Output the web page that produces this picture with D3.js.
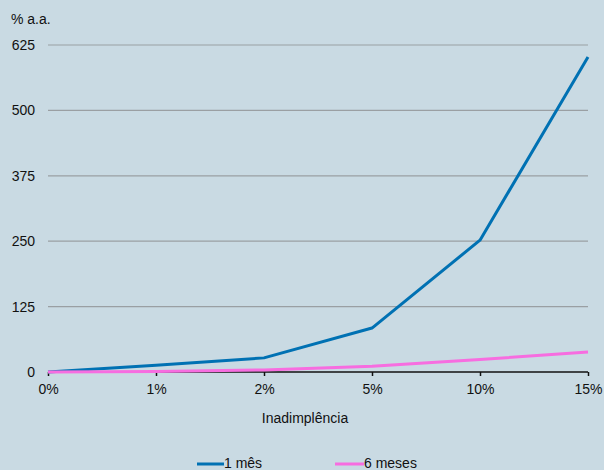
<!DOCTYPE html>
<html><head><meta charset="utf-8">
<script src="https://cdn.jsdelivr.net/npm/d3@7"></script>
<style>body{margin:0;background:#c9dae3;}svg{display:block;font-family:"Liberation Sans",Arial,sans-serif;}</style>
</head><body>
<svg id="c" width="604" height="470"></svg>
<script>
const categories = ["0%","1%","2%","5%","10%","15%"];
const mes1 = [0, 13, 27, 84, 252, 602];
const meses6 = [0, 1, 4, 11, 24, 38];
const yTicks = [0,125,250,375,500,625];
const seriesNames = ["1 mês","6 meses"];
const colors = ["#0071b3","#f76de0"];
const FS = 14;

const svg = d3.select("#c");
svg.append("rect").attr("width",604).attr("height",470).attr("fill","#c9dae3");
const x = d3.scalePoint().domain(categories).range([48,588]);
const y = d3.scaleLinear().domain([0,625]).range([372,45]);

svg.append("g").selectAll("line").data(yTicks.filter(d=>d>0)).join("line")
  .attr("x1",48).attr("x2",588).attr("y1",d=>y(d)).attr("y2",d=>y(d))
  .attr("stroke","#9a9fa3").attr("stroke-width",1.2);

const ya = svg.append("g").attr("transform","translate(48,0)")
  .call(d3.axisLeft(y).tickValues(yTicks).tickSize(0).tickPadding(13));
ya.select(".domain").remove();
ya.selectAll("text").attr("font-size",FS).attr("fill","#111").attr("font-family","Liberation Sans, Arial, sans-serif");

const xa = svg.append("g").attr("transform","translate(0,372)")
  .call(d3.axisBottom(x).tickSize(4).tickPadding(8).tickSizeOuter(0));
xa.select(".domain").attr("stroke","#111").attr("stroke-width",1.5).attr("d","M48,0H588");
xa.selectAll("line").attr("stroke","#111").attr("stroke-width",1.5);
xa.selectAll("text").attr("font-size",FS).attr("fill","#111").attr("font-family","Liberation Sans, Arial, sans-serif");

const line = d3.line().x((d,i)=>x(categories[i])).y(d=>y(d));
[mes1, meses6].forEach((s,k)=>{
  svg.append("path").datum(s).attr("d",line).attr("fill","none")
    .attr("stroke",colors[k]).attr("stroke-width",3).attr("stroke-linejoin","round");
});
svg.append("text").attr("x",11).attr("y",24).attr("font-size",FS).attr("fill","#111").text("% a.a.");
svg.append("text").attr("x",305).attr("y",423).attr("text-anchor","middle").attr("font-size",FS).attr("fill","#111").text("Inadimplência");

const leg = [{x:197,w:27},{x:335,w:29}];
seriesNames.forEach((n,k)=>{
  svg.append("line").attr("x1",leg[k].x).attr("x2",leg[k].x+leg[k].w).attr("y1",464).attr("y2",464)
    .attr("stroke",colors[k]).attr("stroke-width",3);
  svg.append("text").attr("x",leg[k].x+leg[k].w).attr("y",468).attr("font-size",FS).attr("fill","#111").text(n);
});
</script>
</body></html>
